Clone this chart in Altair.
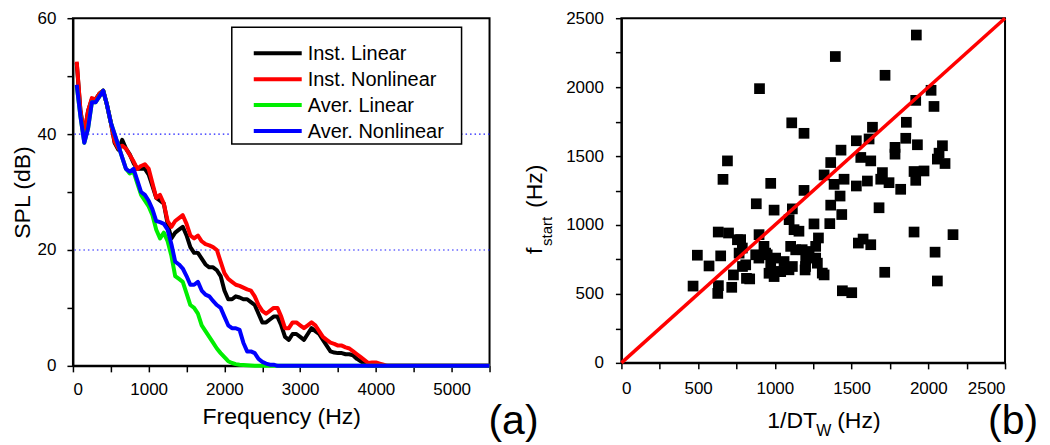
import altair as alt
import pandas as pd

FONT = "Liberation Sans"

# ---------------- Panel (a): SPL spectra ----------------
freq = list(range(50, 4250, 50)) + [5500]

inst_linear = [
    52.3, 43.8, 40, 44, 46, 46, 47, 47.5, 45, 42,
    38.5, 37.3, 39, 37.5, 36.5, 35, 34, 34, 34, 33,
    31, 29, 28.5, 28, 24.5, 22, 23, 23.5, 24, 22.5,
    20.5, 19.5, 19.5, 18.5, 17.5, 17, 17, 16.5, 15.5, 13,
    11.5, 11.5, 12, 11.8, 11.5, 11.5, 11, 10.5, 9, 7.5,
    7.5, 8, 8.5, 8.5, 7, 5, 4.5, 5.5, 5.5, 5,
    4.5, 5.5, 6.5, 6, 5.5, 4.5, 3.5, 2.5, 2.3, 2.2,
    2.2, 2, 2, 1.8, 1.2, 0.8, 0.3, 0, 0, 0,
    0, 0, 0, 0, 0,
]
inst_nonlinear = [
    52.5, 44, 40, 44, 46.2, 46, 47, 47.5, 45, 42,
    38.7, 37.5, 38, 37.5, 36.4, 35.3, 34, 34.5, 34.8, 34,
    31.5, 29, 29.5, 28, 25, 24, 25, 25.5, 26, 24.5,
    22.5, 22, 22.5, 21.5, 21, 20.8, 20.5, 20, 18, 16,
    15, 14.5, 14, 13.8, 13.5, 13.2, 13, 12, 10.5, 9.5,
    9, 9.5, 10, 10, 8.5, 6.5, 6.5, 7.5, 7.5, 7,
    6.5, 7, 7.5, 7, 6, 5, 4.5, 4, 3.8, 3.5,
    3.5, 3.2, 3, 2.5, 2, 1.5, 1, 0.5, 0.6, 0.6,
    0.4, 0.2, 0, 0, 0,
]
aver_linear = [
    48.3, 43, 38.5, 41, 45.5, 45.5, 46.5, 47.5, 45, 42,
    40, 38, 36, 34, 33.2, 33.5, 31.5, 29.5, 28.5, 27.5,
    26, 23.5, 22, 23, 21.5, 19, 15.5, 15, 14.5, 12.5,
    10.5, 10, 9, 7, 6, 5, 4, 3, 2.2, 1.5,
    0.8, 0.5, 0.3, 0.2, 0.15, 0.1, 0.05, 0, 0, 0,
    0, 0, 0, 0, 0, 0, 0, 0, 0, 0,
    0, 0, 0, 0, 0, 0, 0, 0, 0, 0,
    0, 0, 0, 0, 0, 0, 0, 0, 0, 0,
    0, 0, 0, 0, 0,
]
aver_nonlinear = [
    48.5, 43, 38.5, 41, 45.5, 45.5, 46.5, 47.5, 45, 42,
    40, 38, 36, 34, 33.5, 34, 32, 30, 29.5, 28.5,
    27, 25, 24.8, 24.5, 23.5, 21, 18, 17.5, 16.8, 15.5,
    14, 14, 14.5, 13, 12.3, 12, 11.2, 10.5, 10, 8.5,
    7, 6.5, 6.5, 6.2, 4, 2.5, 2.5, 2.2, 1.2, 0.7,
    0.4, 0.2, 0.2, 0, 0, 0, 0, 0, 0, 0,
    0, 0, 0, 0, 0, 0, 0, 0, 0, 0,
    0, 0, 0, 0, 0, 0, 0, 0, 0, 0,
    0, 0, 0, 0, 0,
]

series_names = ["Inst. Linear", "Inst. Nonlinear", "Aver. Linear", "Aver. Nonlinear"]
series_colors = ["#000000", "#ff0000", "#00ee00", "#0000ff"]
series_values = [inst_linear, inst_nonlinear, aver_linear, aver_nonlinear]

grid_levels = [20, 40]
x_ticks_a = list(range(0, 5501, 500))
y_ticks_a = list(range(0, 61, 10))

# ---------------- Panel (b): scatter ----------------
inv_dtw = [
    467, 495, 571, 628, 632, 631, 647, 662, 691, 698, 719, 730, 756, 767, 789, 815,
    900, 879, 897, 973, 995, 1110, 1190, 1190, 1114, 1093, 1125, 1255, 1284, 1266,
    1223, 1197, 1277, 1321, 1321, 1364, 1386, 1364, 1358, 1425, 1436, 1431, 1394,
    1451, 1440, 1501, 1531, 1531, 1560, 1544, 1575, 1625, 1603, 1625, 1614, 1636,
    1718, 1701, 1690, 1744, 1679, 1716, 1783, 1783, 1820, 1857, 1853, 1907, 1918,
    1922, 1929, 1907, 1918, 1972, 2018, 2037, 2044, 2059, 2059, 2070, 2092, 2109,
    2161,
    777, 788, 810, 836, 875, 929, 950, 896, 973, 1005, 1027, 1092, 1103, 1178,
    1200, 1266, 1309, 1157, 1060, 1038, 995, 962, 940, 1136, 1114, 1201,
]
f_start = [
    557, 781, 703, 504, 560, 949, 776, 1331, 1465, 942, 548, 638, 893, 796, 699, 613,
    1989, 1154, 930, 1302, 1108, 1741, 1665, 1251, 1117, 1039, 966, 1008, 906, 845,
    808, 674, 723, 638, 1363, 1453, 1295, 1144, 1010, 1210, 1076, 1543, 2222,
    1332, 523, 509, 1611, 1283, 1490, 869, 898, 857, 1319, 1465, 1624, 1709,
    2086, 1380, 1332, 1307, 1125, 657, 1563, 1514, 1259, 1745, 1629, 949, 1904,
    2378, 1582, 1388, 1324, 1392, 1977, 1860, 803, 594, 1478, 1521, 1575, 1446,
    930,
    894, 833, 711, 609, 784, 845, 784, 760, 711, 760, 662, 675, 845, 821,
    699, 760, 651, 955, 735, 662, 626, 650, 796, 820, 699, 747,
]
diag_x = [0, 2500]
diag_y = [0, 2500]
ticks_b = list(range(0, 2501, 250))

# ---------------- build tables ----------------
rows = []
for name, vals in zip(series_names, series_values):
    for f, v in zip(freq, vals):
        rows.append({"freq": f, "spl": v, "series": name})
df_a = pd.DataFrame(rows)
df_grid = pd.DataFrame({"y": grid_levels})
df_b = pd.DataFrame({"x": inv_dtw, "y": f_start})
df_diag = pd.DataFrame({"x": diag_x, "y": diag_y})

W_A, H_A = 417, 348
W_B, H_B = 384, 345

color_scale = alt.Scale(domain=series_names, range=series_colors)

x_a = alt.X(
    "freq:Q", scale=alt.Scale(domain=[0, 5500], nice=False),
    axis=alt.Axis(values=x_ticks_a, format="d", title="Frequency (Hz)",
                  labelExpr="datum.value % 1000 == 0 ? datum.label : ''",
                  labelPadding=10, titlePadding=8),
)
y_a = alt.Y(
    "spl:Q", scale=alt.Scale(domain=[0, 60], nice=False),
    axis=alt.Axis(values=y_ticks_a, format="d", title="SPL (dB)",
                  labelExpr="datum.value % 20 == 0 ? datum.label : ''",
                  labelPadding=11, titlePadding=3),
)

grid_layer = alt.Chart(df_grid).mark_rule(
    color="#1a1aff", strokeDash=[1.5, 3], strokeWidth=1.2
).encode(y=alt.Y("y:Q", scale=alt.Scale(domain=[0, 60], nice=False)))

line_layers = []
for name in series_names:
    line_layers.append(
        alt.Chart(df_a).transform_filter(alt.datum.series == name)
        .mark_line(strokeWidth=4, strokeJoin="round")
        .encode(x=x_a, y=y_a,
                color=alt.Color("series:N", scale=color_scale, legend=None))
    )

# hand-drawn legend box (layout only)
one = pd.DataFrame({"k": [0]})
legend_layers = [
    alt.Chart(one).mark_rect(fill="white", stroke="black", strokeWidth=1.5).encode(
        x=alt.value(159), x2=alt.value(389), y=alt.value(9), y2=alt.value(126))
]
for i, name in enumerate(series_names):
    ly = 35 + 26 * i
    sdf = pd.DataFrame({"series": [name]})
    legend_layers.append(
        alt.Chart(sdf).mark_rule(strokeWidth=4).encode(
            x=alt.value(181), x2=alt.value(229), y=alt.value(ly),
            color=alt.Color("series:N", scale=color_scale, legend=None))
    )
    legend_layers.append(
        alt.Chart(sdf).mark_text(font=FONT, fontSize=20, align="left",
                                 baseline="middle", color="black").encode(
            text="series:N", x=alt.value(235), y=alt.value(ly + 1))
    )

label_a = alt.Chart(pd.DataFrame({"t": ["(a)"]})).mark_text(
    font=FONT, fontSize=41, align="center", baseline="alphabetic", color="black"
).encode(text="t:N", x=alt.value(441), y=alt.value(416))

panel_a = alt.layer(grid_layer, *line_layers, *legend_layers, label_a).properties(
    width=W_A, height=H_A)

x_b = alt.X(
    "x:Q", scale=alt.Scale(domain=[0, 2500], nice=False),
    axis=alt.Axis(values=ticks_b, format="d", title=None,
                  labelExpr="datum.value % 500 == 0 ? datum.label : ''",
                  labelPadding=12),
)
y_b = alt.Y(
    "y:Q", scale=alt.Scale(domain=[0, 2500], nice=False),
    axis=alt.Axis(values=ticks_b, format="d", title=None,
                  labelExpr="datum.value % 500 == 0 ? datum.label : ''",
                  labelPadding=12),
)

scatter = alt.Chart(df_b).mark_square(size=115, color="black", opacity=1).encode(x=x_b, y=y_b)
diag = alt.Chart(df_diag).mark_line(color="#ff0000", strokeWidth=3.5).encode(x=x_b, y=y_b)


def txt(t, x, y, size, angle=0):
    return alt.Chart(pd.DataFrame({"t": [t]})).mark_text(
        font=FONT, fontSize=size, align="left", baseline="alphabetic",
        color="black", angle=angle
    ).encode(text="t:N", x=alt.value(x), y=alt.value(y))


titles_b = [
    txt("1/DT", 146, 410, 23),
    txt("W", 195, 418, 16),
    txt("(Hz)", 216, 410, 23),
    txt("f", -79, 236, 23, 270),
    txt("start", -69, 228, 15, 270),
    txt("(Hz)", -79, 190, 23, 270),
]
label_b = alt.Chart(pd.DataFrame({"t": ["(b)"]})).mark_text(
    font=FONT, fontSize=41, align="center", baseline="alphabetic", color="black"
).encode(text="t:N", x=alt.value(392), y=alt.value(416))

panel_b = alt.layer(scatter, diag, *titles_b, label_b).properties(width=W_B, height=H_B)

chart = (
    alt.hconcat(panel_a, panel_b, spacing=132, bounds="flush")
    .properties(padding={"left": 2, "top": 0, "right": 2, "bottom": 2}, background="white")
    .configure_view(stroke="black", strokeWidth=2)
    .configure_axis(
        domainColor="black", domainWidth=2, tickColor="black", tickWidth=1.5,
        tickSize=6, labelFont=FONT, labelFontSize=17, labelColor="black",
        titleFont=FONT, titleFontSize=23, titleFontWeight="normal", titleColor="black",
        grid=False,
    )
)

chart.save("out.html", embed_options={"renderer": "svg", "actions": False})
